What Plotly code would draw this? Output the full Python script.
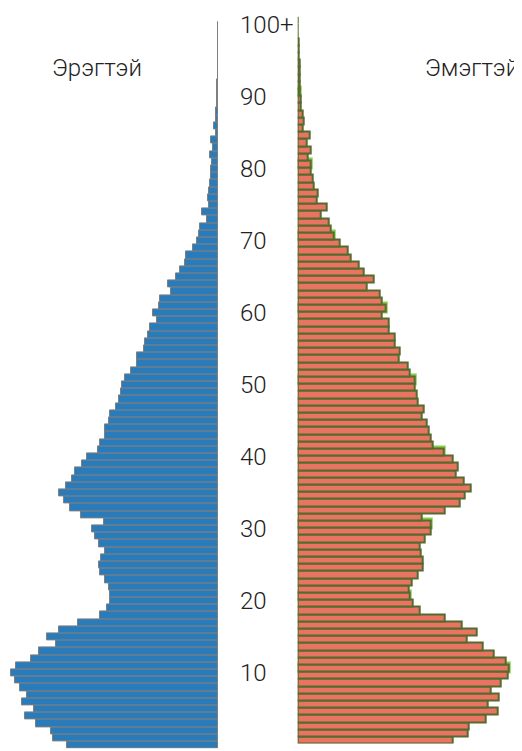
import plotly.graph_objects as go

ages = list(range(0, 101))
tick_vals = [0, 10, 20, 30, 40, 50, 60, 70, 80, 90, 100]
tick_text = ["0", "10", "20", "30", "40", "50", "60", "70", "80", "90", "100+"]

male = [151, 165, 167, 182, 193, 184, 196, 191, 198, 203,
        207, 202, 187, 179, 162, 171, 159, 140, 118, 111,
        108, 108.5, 109, 113, 118.5, 119.5, 117, 113.5, 119, 123.5,
        126, 114.5, 137, 148, 154.5, 159, 152, 146, 143.5, 136.5,
        131.5, 120, 118, 113, 113, 109, 108, 102, 99.5, 97,
        96, 93, 87, 81, 81, 74.5, 73.5, 70, 68, 61,
        65, 59.5, 58.5, 47, 50, 42.5, 38, 33.5, 32, 25,
        21.5, 19, 18.5, 11.5, 16.5, 9, 10.4, 9.4, 8.4, 7.4,
        6.7, 6.3, 7.7, 5, 6.7, 2.5, 3.7, 2.3, 1.7, 1.3,
        1, 0.8, 0.7, 0.5, 0.4, 0.3, 0.3, 0.2, 0.1, 0.1, 0.2]

female = [155, 170, 171, 188, 200, 190, 201, 193, 203, 210,
          211, 208, 196, 185, 169, 179, 164, 147, 122, 115,
          112, 111, 114, 120, 125, 125, 123, 122, 127, 133,
          133, 124, 147, 162, 167, 173, 166, 158, 160, 155,
          146, 135, 133, 131, 129, 124, 126, 120, 119, 117,
          117, 112, 110, 101, 102, 97, 97, 91, 91, 84,
          88, 84, 82, 69, 76, 66, 60.5, 53, 50, 41.5,
          35.5, 32.5, 31, 22.5, 29, 19, 20.3, 16.3, 15, 13,
          13, 10.3, 13, 9, 12, 5, 5.7, 5, 3, 3,
          2.3, 2.3, 2.3, 1.7, 1.7, 0.8, 0.6, 0.5, 0.4, 0.3, 0.3]

male_label = "Эрэгтэй"
female_label = "Эмэгтэй"

W, H = 522, 751
OFF = 8  # page body margin of the html page
male_fill = "#2a7bba"
male_line = "#7f7f7f"
female_fill = "#e97461"
female_line = "#556b2f"
highlight_line = "#86cf4c"

hl_ages = [a for a in ages if a % 10 == 0 and 0 < a < 100]
hl_vals = [female[a] for a in hl_ages]

fig = go.Figure()
fig.add_trace(go.Bar(
    x=male, y=ages, orientation="h", xaxis="x", yaxis="y",
    marker=dict(color=male_fill, line=dict(color=male_line, width=1)),
    hoverinfo="skip", showlegend=False,
))
fig.add_trace(go.Bar(
    x=hl_vals, y=hl_ages, orientation="h", xaxis="x2", yaxis="y2", width=1,
    marker=dict(color=highlight_line, line=dict(color=highlight_line, width=5)),
    hoverinfo="skip", showlegend=False,
))
fig.add_trace(go.Bar(
    x=female, y=ages, orientation="h", xaxis="x2", yaxis="y2", width=1,
    marker=dict(color=female_fill, line=dict(color=female_line, width=2)),
    hoverinfo="skip", showlegend=False,
))

male_right_px = 218.0 - OFF
female_left_px = 297.7 - OFF

font_family = "Roboto"
fs = 24
fig.update_layout(
    width=W, height=H,
    margin=dict(l=0, r=0, t=0, b=0, autoexpand=False),
    paper_bgcolor="white", plot_bgcolor="white",
    bargap=0, barmode="overlay",
    font=dict(family=font_family, color="#222222", weight=300),
    xaxis=dict(domain=[0, male_right_px / W], range=[male_right_px, 0],
               visible=False, anchor="y"),
    yaxis=dict(domain=[(H - (748.6 - OFF)) / H, (H - (21.4 - OFF)) / H], range=[-0.5, 100.5],
               anchor="x", side="right", tickmode="array", automargin=False,
               tickvals=tick_vals, ticktext=tick_text, ticks="",
               showgrid=False, zeroline=False, showline=False,
               ticklabelstandoff=21,
               tickfont=dict(family=font_family, size=fs, color="#222222", weight=300)),
    xaxis2=dict(domain=[female_left_px / W, 1], range=[0, W - female_left_px],
                visible=False, anchor="y2"),
    yaxis2=dict(domain=[(H - (743.6 - OFF)) / H, (H - (16.4 - OFF)) / H], range=[-0.5, 100.5],
                anchor="x2", showticklabels=False, ticks="", automargin=False,
                showgrid=False, zeroline=False, showline=False),
    annotations=[
        dict(text=male_label, x=(96.5 - OFF) / W, y=1 - (68 - OFF) / H, xref="paper", yref="paper",
             xanchor="center", yanchor="middle", showarrow=False,
             font=dict(family=font_family, size=fs, color="#222222", weight=300)),
        dict(text=female_label, x=(471.5 - OFF) / W, y=1 - (68 - OFF) / H, xref="paper", yref="paper",
             xanchor="center", yanchor="middle", showarrow=False,
             font=dict(family=font_family, size=fs, color="#222222", weight=300)),
    ],
)

fig.write_html("out.html")
